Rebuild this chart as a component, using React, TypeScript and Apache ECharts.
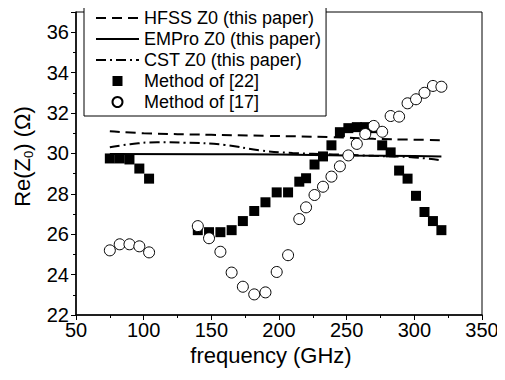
import React, { useEffect, useRef } from "react";
import * as echarts from "echarts";

const xTicks = [50, 100, 150, 200, 250, 300, 350];
const yTicks = [22, 24, 26, 28, 30, 32, 34, 36];

const hfssFreq = [75, 100, 150, 190, 240, 270, 300, 320];
const hfssZ0 = [31.1, 31.0, 30.92, 30.87, 30.8, 30.72, 30.68, 30.65];

const emproFreq = [75, 150, 200, 250, 300, 320];
const emproZ0 = [29.97, 29.96, 29.94, 29.9, 29.87, 29.85];

const cstFreq = [75, 90, 110, 130, 160, 186, 210, 240, 270, 300, 320];
const cstZ0 = [30.3, 30.45, 30.55, 30.53, 30.42, 30.15, 30.02, 29.95, 29.88, 29.8, 29.65];

const methodFreq = [
  75, 82.3, 89.5, 96.8, 104, 140, 148.3, 156.7, 165, 173.3, 181.7, 190, 198.3, 206.7, 215,
  220, 226.25, 232.5, 238.75, 245, 251.25, 257.5, 263.75, 270, 276.25, 282.5, 288.75, 295,
  301.25, 307.5, 313.75, 320,
];
const method22 = [
  29.75, 29.75, 29.7, 29.25, 28.75, 26.2, 26.1, 26.1, 26.2, 26.65, 27.15, 27.58, 28.07, 28.07,
  28.6, 28.77, 29.45, 29.85, 30.4, 31.05, 31.25, 31.3, 31.3, 31.25, 30.4, 30.05, 29.15, 28.75,
  27.9, 27.1, 26.65, 26.2,
];
const method17 = [
  25.2, 25.5, 25.5, 25.4, 25.1, 26.4, 25.8, 25.13, 24.1, 23.4, 23.02, 23.12, 24.13, 24.96,
  26.75, 27.33, 27.94, 28.35, 28.85, 29.36, 29.9, 30.47, 30.96, 31.36, 31.07, 31.85, 31.82,
  32.48, 32.68, 33.0, 33.34, 33.3,
];

const seriesNames = [
  "HFSS Z0 (this paper)",
  "EMPro Z0 (this paper)",
  "CST Z0 (this paper)",
  "Method of [22]",
  "Method of [17]",
];

const pairs = (xs: number[], ys: number[]) => xs.map((x, i) => [x, ys[i]]);

const FONT = "Liberation Sans, Arial, sans-serif";

export default function App() {
  const ref = useRef<HTMLDivElement>(null);
  useEffect(() => {
    if (!ref.current) return;
    const chart = echarts.init(ref.current, undefined, { renderer: "svg" });
    chart.setOption({
      animation: false,
      backgroundColor: "#ffffff",
      textStyle: { fontFamily: FONT, color: "#000" },
      grid: {
        left: 76,
        right: 23,
        top: 12,
        bottom: 65,
        show: true,
        borderColor: "#000",
        borderWidth: 1,
      },
      legend: {
        orient: "vertical",
        left: 84,
        top: 4,
        padding: [4, 5, 4, 11],
        itemGap: 1,
        itemWidth: 43,
        itemHeight: 10,
        backgroundColor: "#fff",
        borderColor: "#000",
        borderWidth: 1,
        borderRadius: 0,
        data: [
          { name: seriesNames[0], itemStyle: { opacity: 0 } },
          { name: seriesNames[1], itemStyle: { opacity: 0 } },
          { name: seriesNames[2], itemStyle: { opacity: 0 } },
          { name: seriesNames[3], icon: "path://M0,0H10V10H0Z" },
          { name: seriesNames[4], icon: "circle" },
        ],
        textStyle: { fontFamily: FONT, fontSize: 18, color: "#000", lineHeight: 20 },
      },
      xAxis: {
        type: "value",
        min: xTicks[0],
        max: xTicks[xTicks.length - 1],
        interval: 50,
        name: "frequency (GHz)",
        nameLocation: "middle",
        nameGap: 29,
        nameTextStyle: { fontFamily: FONT, fontSize: 22, color: "#000", padding: [0, 16, 0, 0] },
        axisLine: { show: true, onZero: false, lineStyle: { color: "#000", width: 1.5 } },
        axisTick: { show: true, inside: false, length: 5, lineStyle: { color: "#000", width: 1 } },
        minorTick: { show: true, splitNumber: 2, length: 3, lineStyle: { color: "#000", width: 1 } },
        splitLine: { show: false },
        axisLabel: { fontFamily: FONT, fontSize: 20, color: "#000", margin: 5 },
      },
      yAxis: {
        type: "value",
        min: yTicks[0],
        max: 37,
        interval: 2,
        name: "Re(Z{sub|0}) (Ω)",
        nameLocation: "middle",
        nameGap: 41,
        nameTextStyle: {
          fontFamily: FONT,
          fontSize: 22,
          color: "#000",
          lineHeight: 26,
          padding: [0, 0, 0, 14],
          rich: {
            sub: { fontFamily: FONT, fontSize: 13, color: "#000", verticalAlign: "bottom", lineHeight: 26, padding: [10, 0, 0, 0] },
          },
        },
        axisLine: { show: true, onZero: false, lineStyle: { color: "#000", width: 1.5 } },
        axisTick: { show: true, inside: false, length: 5, lineStyle: { color: "#000", width: 1 } },
        minorTick: { show: true, splitNumber: 2, length: 3, lineStyle: { color: "#000", width: 1 } },
        splitLine: { show: false },
        axisLabel: {
          fontFamily: FONT,
          fontSize: 20,
          color: "#000",
          margin: 7,
          showMaxLabel: false,
          formatter: (v: number) => (yTicks.includes(v) ? String(v) : ""),
        },
      },
      series: [
        {
          name: seriesNames[0],
          type: "line",
          data: pairs(hfssFreq, hfssZ0),
          smooth: true,
          symbol: "none",
          lineStyle: { color: "#000", width: 2, type: [10, 6] },
          itemStyle: { color: "#000" },
          z: 2,
        },
        {
          name: seriesNames[1],
          type: "line",
          data: pairs(emproFreq, emproZ0),
          smooth: true,
          symbol: "none",
          lineStyle: { color: "#000", width: 2, type: "solid" },
          itemStyle: { color: "#000" },
          z: 2,
        },
        {
          name: seriesNames[2],
          type: "line",
          data: pairs(cstFreq, cstZ0),
          smooth: true,
          symbol: "none",
          lineStyle: { color: "#000", width: 2, type: [10, 4, 2, 4] },
          itemStyle: { color: "#000" },
          z: 2,
        },
        {
          name: seriesNames[3],
          type: "scatter",
          data: pairs(methodFreq, method22),
          symbol: "rect",
          symbolSize: 10,
          itemStyle: { color: "#000", opacity: 1 },
          z: 3,
        },
        {
          name: seriesNames[4],
          type: "scatter",
          data: pairs(methodFreq, method17),
          symbol: "circle",
          symbolSize: 11,
          itemStyle: { color: "#fff", borderColor: "#000", borderWidth: 1, opacity: 1 },
          z: 4,
        },
      ],
    });
    return () => chart.dispose();
  }, []);
  return <div ref={ref} style={{ width: 505, height: 380, margin: -8 }} />;
}
